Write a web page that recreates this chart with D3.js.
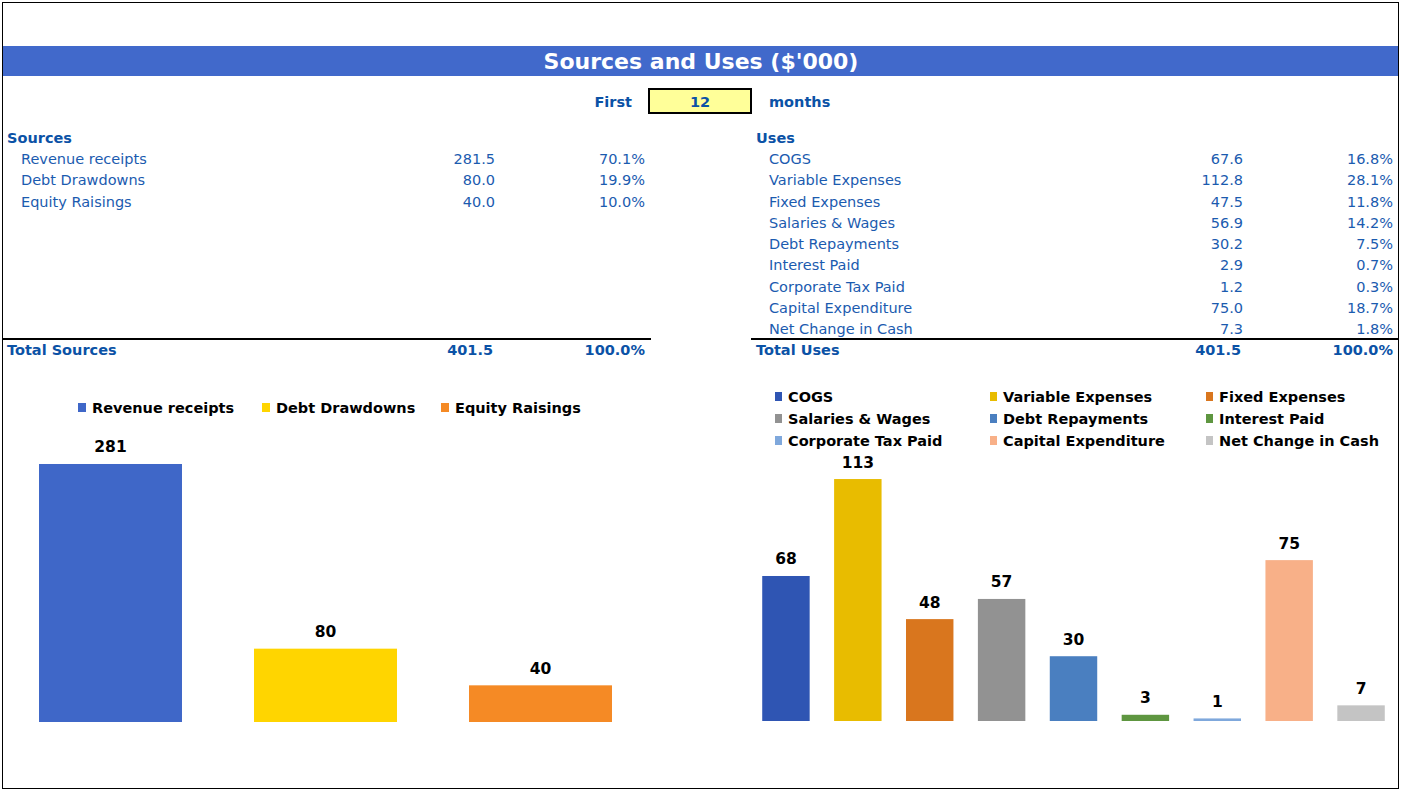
<!DOCTYPE html>
<html>
<head>
<meta charset="utf-8">
<script src="https://cdn.jsdelivr.net/npm/d3@7"></script>
<style>
  html, body { margin: 0; padding: 0; background: #fff; }
  svg { display: block; }
  text { font-family: "DejaVu Sans", "Verdana", sans-serif; }
</style>
</head>
<body>
<svg id="chart" width="1402" height="792"></svg>
<script>
// ---------- data ----------
const titleText = "Sources and Uses ($'000)";
const periodMonths = 12;

const sourceNames = ["Revenue receipts", "Debt Drawdowns", "Equity Raisings"];
const sourceValues = [281.46, 80.0, 40.0];
const sourcePcts = [70.1, 19.9, 10.0];
const sourceColors = ["#3F67C8", "#FFD500", "#F58A25"];
const totalSources = 401.5;

const useNames = ["COGS", "Variable Expenses", "Fixed Expenses", "Salaries & Wages",
  "Debt Repayments", "Interest Paid", "Corporate Tax Paid", "Capital Expenditure", "Net Change in Cash"];
const useValues = [67.6, 112.8, 47.5, 56.9, 30.2, 2.9, 1.2, 75.0, 7.3];
const usePcts = [16.8, 28.1, 11.8, 14.2, 7.5, 0.7, 0.3, 18.7, 1.8];
const useColors = ["#2F55B3", "#E8BC00", "#D9761E", "#929292", "#4A7FC0",
  "#5E9640", "#7FA8DC", "#F8B088", "#C4C4C4"];
const totalUses = 401.5;

// ---------- drawing ----------
const svg = d3.select("#chart");
const blue = "#1B5BAF";
const blueBold = "#0B52A6";
const FS = 14.5;
const f1 = d3.format(".1f");
const f0 = d3.format(".0f");

// outer frame
svg.append("rect").attr("x", 2.5).attr("y", 2.5).attr("width", 1396).attr("height", 786)
  .attr("fill", "none").attr("stroke", "#000").attr("stroke-width", 1);

// title bar
svg.append("rect").attr("x", 3).attr("y", 46).attr("width", 1395).attr("height", 30).attr("fill", "#4169CB");
svg.append("text").attr("x", 701).attr("y", 69).attr("text-anchor", "middle")
  .attr("fill", "#fff").attr("font-weight", "bold").attr("font-size", 22).text(titleText);

// period selector
svg.append("text").attr("x", 632).attr("y", 106.5).attr("text-anchor", "end")
  .attr("fill", blueBold).attr("font-weight", "bold").attr("font-size", FS).text("First");
svg.append("rect").attr("x", 649).attr("y", 89).attr("width", 102).attr("height", 24)
  .attr("fill", "#FFFF99").attr("stroke", "#000").attr("stroke-width", 2);
svg.append("text").attr("x", 700).attr("y", 106.5).attr("text-anchor", "middle")
  .attr("fill", blueBold).attr("font-weight", "bold").attr("font-size", FS).text(periodMonths);
svg.append("text").attr("x", 769).attr("y", 106.5)
  .attr("fill", blueBold).attr("font-weight", "bold").attr("font-size", FS).text("months");

// tables
function table(cfg) {
  const g = svg.append("g");
  g.append("text").attr("x", cfg.hx).attr("y", 143).attr("fill", blueBold)
    .attr("font-weight", "bold").attr("font-size", FS).text(cfg.header);
  const rowY = d3.scaleLinear().domain([0, 1]).range([164, 185.25]);
  cfg.names.forEach((n, i) => {
    const y = rowY(i);
    g.append("text").attr("x", cfg.ix).attr("y", y).attr("fill", blue).attr("font-size", FS).text(n);
    g.append("text").attr("x", cfg.vx).attr("y", y).attr("text-anchor", "end").attr("fill", blue)
      .attr("font-size", FS).text(f1(cfg.values[i]));
    g.append("text").attr("x", cfg.px).attr("y", y).attr("text-anchor", "end").attr("fill", blue)
      .attr("font-size", FS).text(f1(cfg.pcts[i]) + "%");
  });
  g.append("line").attr("x1", cfg.lx1).attr("x2", cfg.lx2).attr("y1", 339).attr("y2", 339)
    .attr("stroke", "#000").attr("stroke-width", 2);
  g.append("text").attr("x", cfg.hx).attr("y", 355).attr("fill", blueBold)
    .attr("font-weight", "bold").attr("font-size", FS).text(cfg.totalLabel);
  g.append("text").attr("x", cfg.vx - 2).attr("y", 355).attr("text-anchor", "end").attr("fill", blueBold)
    .attr("font-weight", "bold").attr("font-size", FS).text(f1(cfg.total));
  g.append("text").attr("x", cfg.px).attr("y", 355).attr("text-anchor", "end").attr("fill", blueBold)
    .attr("font-weight", "bold").attr("font-size", FS).text("100.0%");
}
table({ header: "Sources", hx: 7, ix: 21, vx: 495, px: 645, lx1: 3, lx2: 651,
  names: sourceNames, values: sourceValues, pcts: sourcePcts, totalLabel: "Total Sources", total: totalSources });
table({ header: "Uses", hx: 756, ix: 769, vx: 1243, px: 1393, lx1: 751, lx2: 1398,
  names: useNames, values: useValues, pcts: usePcts, totalLabel: "Total Uses", total: totalUses });

// left bar chart
(function () {
  const x = d3.scaleBand().domain(sourceNames).range([3, 648]).paddingInner(0.335).paddingOuter(0.1675);
  const y = d3.scaleLinear().domain([0, 300]).range([722, 722 - 275]);
  const g = svg.append("g");
  g.selectAll("rect.bar").data(sourceNames).join("rect").attr("class", "bar")
    .attr("x", d => x(d)).attr("width", x.bandwidth())
    .attr("y", (d, i) => y(sourceValues[i])).attr("height", (d, i) => y(0) - y(sourceValues[i]))
    .attr("fill", (d, i) => sourceColors[i]);
  g.selectAll("text.lbl").data(sourceNames).join("text").attr("class", "lbl")
    .attr("x", d => x(d) + x.bandwidth() / 2).attr("y", (d, i) => y(sourceValues[i]) - 11.5)
    .attr("text-anchor", "middle").attr("font-weight", "bold").attr("font-size", 15.5).attr("fill", "#000")
    .text((d, i) => f0(sourceValues[i]));
  // legend
  const lx = [78, 262, 441];
  sourceNames.forEach((n, i) => {
    g.append("rect").attr("x", lx[i]).attr("y", 403).attr("width", 8).attr("height", 9).attr("fill", sourceColors[i]);
    g.append("text").attr("x", lx[i] + 14).attr("y", 413).attr("font-weight", "bold").attr("font-size", FS)
      .attr("fill", "#000").text(n);
  });
})();

// right bar chart
(function () {
  const x = d3.scaleBand().domain(useNames).range([750, 1397]).paddingInner(0.34).paddingOuter(0.17);
  const y = d3.scaleLinear().domain([0, 120]).range([721, 721 - 120 * 2.145]);
  const g = svg.append("g");
  g.selectAll("rect.bar").data(useNames).join("rect").attr("class", "bar")
    .attr("x", d => x(d)).attr("width", x.bandwidth())
    .attr("y", (d, i) => y(useValues[i])).attr("height", (d, i) => y(0) - y(useValues[i]))
    .attr("fill", (d, i) => useColors[i]);
  g.selectAll("text.lbl").data(useNames).join("text").attr("class", "lbl")
    .attr("x", d => x(d) + x.bandwidth() / 2).attr("y", (d, i) => y(useValues[i]) - 11.5)
    .attr("text-anchor", "middle").attr("font-weight", "bold").attr("font-size", 15.5).attr("fill", "#000")
    .text((d, i) => f0(useValues[i]));
  const colX = [775, 990, 1206];
  const rowY = [397, 419, 441];
  useNames.forEach((n, i) => {
    const cx = colX[i % 3], cy = rowY[Math.floor(i / 3)];
    g.append("rect").attr("x", cx).attr("y", cy - 5).attr("width", 7).attr("height", 9).attr("fill", useColors[i]);
    g.append("text").attr("x", cx + 13).attr("y", cy + 5).attr("font-weight", "bold").attr("font-size", FS)
      .attr("fill", "#000").text(n);
  });
})();
</script>
</body>
</html>
